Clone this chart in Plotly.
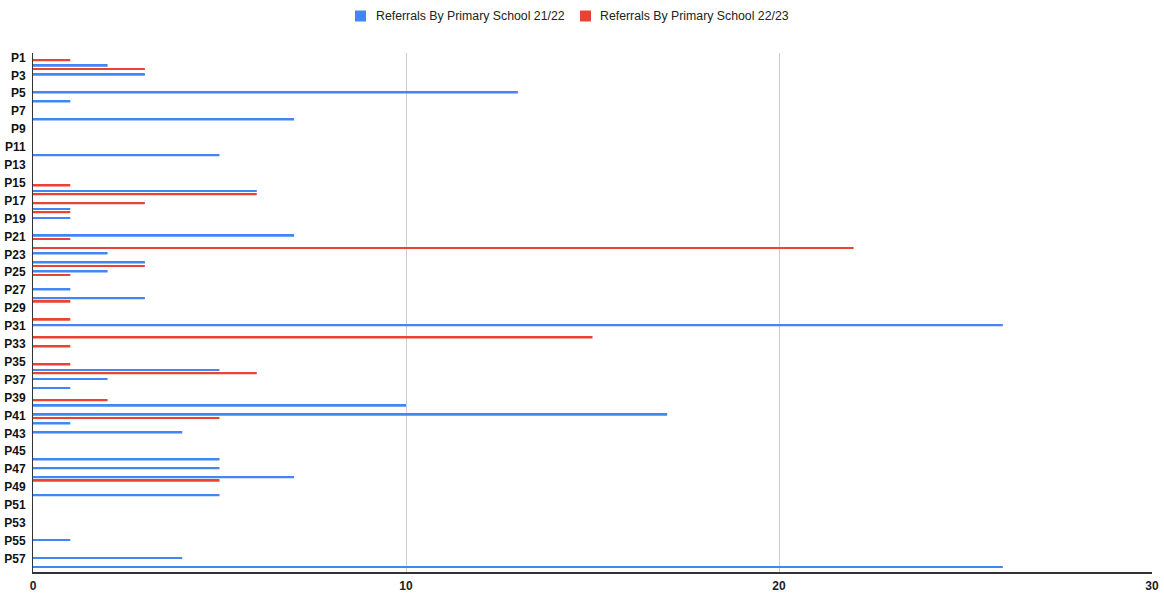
import plotly.graph_objects as go

# School categories P1..P58
schools = [f"P{i}" for i in range(1, 59)]

# Referrals per school, academic year 21/22
referrals_2122 = [
    0, 2, 3, 0, 13, 1, 0, 7, 0, 0,
    0, 5, 0, 0, 0, 6, 0, 1, 1, 0,
    7, 0, 2, 3, 2, 0, 1, 3, 0, 0,
    26, 0, 0, 0, 0, 5, 2, 1, 0, 10,
    17, 1, 4, 0, 0, 5, 5, 7, 0, 5,
    0, 0, 0, 0, 1, 0, 4, 26,
]

# Referrals per school, academic year 22/23
referrals_2223 = [
    1, 3, 0, 0, 0, 0, 0, 0, 0, 0,
    0, 0, 0, 0, 1, 6, 3, 1, 0, 0,
    1, 22, 0, 3, 1, 0, 0, 1, 0, 1,
    0, 15, 1, 0, 1, 6, 0, 0, 2, 0,
    5, 0, 0, 0, 0, 0, 0, 5, 0, 0,
    0, 0, 0, 0, 0, 0, 0, 0,
]

series_names = ["Referrals By Primary School 21/22", "Referrals By Primary School 22/23"]
series_colors = ["#4285F4", "#EA4335"]

# Only every second school is labelled on the axis
tick_labels = schools[::2]

W, H = 1164, 594
L, R, T, B = 33, 12, 53, 22
FONT = "Liberation Sans, Arial, sans-serif"

fig = go.Figure()
fig.add_trace(go.Bar(
    y=schools, x=referrals_2122, orientation="h",
    name=series_names[0],
    marker=dict(color=series_colors[0], line=dict(width=0)),
    width=0.2, offset=-0.17,
))
fig.add_trace(go.Bar(
    y=schools, x=referrals_2223, orientation="h",
    name=series_names[1],
    marker=dict(color=series_colors[1], line=dict(width=0)),
    width=0.2, offset=0.21,
))

# Legend drawn as swatches + labels above the plot area (pixel positions -> paper coords)
pw, ph = W - L - R, H - T - B


def px_x(px):
    return (px - L) / pw


def px_y(py):
    return (H - B - py) / ph


legend_items = [(355, 374), (580, 598)]
shapes, annotations = [], []
for (sx, tx), name, color in zip(legend_items, series_names, series_colors):
    shapes.append(dict(
        type="rect", xref="paper", yref="paper",
        x0=px_x(sx), x1=px_x(sx + 11), y0=px_y(21.5), y1=px_y(10.5),
        fillcolor=color, line=dict(width=0),
    ))
    annotations.append(dict(
        xref="paper", yref="paper", x=px_x(tx), y=px_y(16),
        xanchor="left", yanchor="middle", text=name, showarrow=False,
        font=dict(size=12.3, color="#222222", family=FONT),
    ))

fig.update_layout(
    width=W, height=H,
    margin=dict(l=L, r=R, t=T, b=B, autoexpand=False),
    paper_bgcolor="white", plot_bgcolor="white",
    font=dict(family=FONT, color="#222222"),
    barmode="overlay",
    showlegend=False,
    shapes=shapes,
    annotations=annotations,
    xaxis=dict(
        range=[0, 30], tickvals=[0, 10, 20, 30],
        showgrid=True, gridcolor="#cccccc", gridwidth=1,
        zeroline=False, showline=True, linecolor="#333333", linewidth=2,
        tickfont=dict(size=12, color="#222222", family=FONT, weight="bold"),
        ticks="", automargin=False, ticklabelstandoff=2,
    ),
    yaxis=dict(
        categoryorder="array", categoryarray=schools,
        autorange="reversed",
        tickmode="array", tickvals=tick_labels, ticktext=tick_labels,
        tickfont=dict(size=12, color="#111111", family=FONT, weight="bold"),
        showgrid=False, showline=True, linecolor="#333333", linewidth=1,
        ticks="", automargin=False, ticklabelstandoff=4,
    ),
)

fig.write_html("out.html")
